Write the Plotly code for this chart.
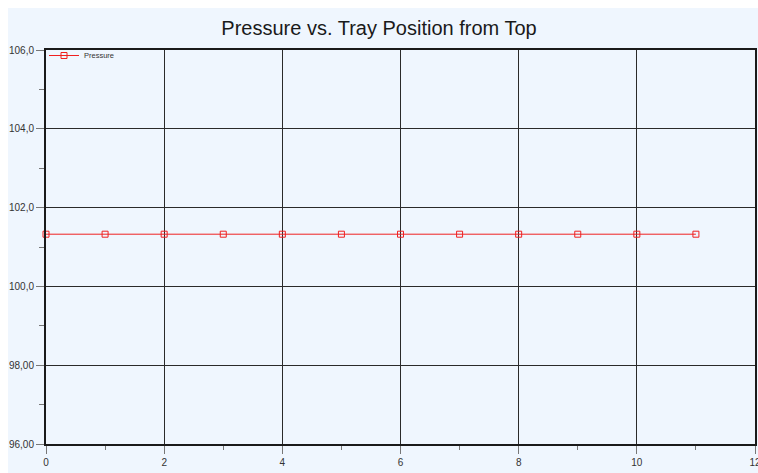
import plotly.graph_objects as go

# Tray positions counted from the top, and the column pressure (kPa) at each
tray_position = [0, 1, 2, 3, 4, 5, 6, 7, 8, 9, 10, 11]
pressure = [101.325, 101.325, 101.325, 101.325, 101.325, 101.325,
            101.325, 101.325, 101.325, 101.325, 101.325, 101.325]

y_tick_values = [96, 98, 100, 102, 104, 106]
y_tick_labels = ["96,00", "98,00", "100,0", "102,0", "104,0", "106,0"]
x_tick_values = [0, 2, 4, 6, 8, 10, 12]

W, H = 758, 473
L, R, T, B = 46, 3, 50, 29
BG = "#EFF6FE"

fig = go.Figure()
fig.add_trace(go.Scatter(
    x=tray_position, y=pressure, name="Pressure",
    mode="lines+markers",
    line=dict(color="#F02020", width=1),
    marker=dict(symbol="square-open", size=6, color="#F02020",
                line=dict(width=1)),
    cliponaxis=False,
))

axis_common = dict(
    showline=True, linecolor="#1A1A1A", linewidth=2, mirror=True,
    showgrid=True, gridcolor="#2A2A2A", gridwidth=1,
    zeroline=False, automargin=False, ticklabeloverflow="allow",
    ticks="outside", ticklen=8, tickcolor="#777777", tickwidth=1,
    tickfont=dict(family="Liberation Sans, Arial, sans-serif", size=10,
                  color="#333333"),
)

fig.update_xaxes(
    range=[0, 12], tickvals=x_tick_values,
    minor=dict(dtick=1, ticks="outside", ticklen=4, tickcolor="#777777",
               showgrid=False),
    **axis_common,
)
fig.update_yaxes(
    range=[96, 106], tickvals=y_tick_values, ticktext=y_tick_labels,
    minor=dict(dtick=1, ticks="outside", ticklen=5, tickcolor="#777777",
               showgrid=False),
    **axis_common,
)

# white strips along the top and left edges of the page
ph = H - T - B
pw = W - L - R
top_y0 = (H - B - 8) / ph
top_y1 = (H - B) / ph
left_x0 = -L / pw
left_x1 = (8 - L) / pw
fig.add_shape(type="rect", xref="paper", yref="paper",
              x0=left_x0, x1=(W - L) / pw + 0.01, y0=top_y0, y1=top_y1 + 0.01,
              fillcolor="white", line=dict(width=0), layer="below")
fig.add_shape(type="rect", xref="paper", yref="paper",
              x0=left_x0 - 0.01, x1=left_x1, y0=-B / ph - 0.01, y1=top_y1 + 0.01,
              fillcolor="white", line=dict(width=0), layer="below")

fig.update_layout(
    width=W, height=H,
    margin=dict(l=L, r=R, t=T, b=B, pad=0, autoexpand=False),
    paper_bgcolor=BG, plot_bgcolor=BG,
    title=dict(text="Pressure vs. Tray Position from Top",
               x=0.5, xanchor="center", y=1 - 28 / H, yanchor="middle",
               font=dict(family="Liberation Sans, Arial, sans-serif",
                         size=20, color="#1A1A1A")),
    showlegend=True,
    legend=dict(x=-2 / pw, y=1 + 9 / ph, xanchor="left", yanchor="top",
                bgcolor="rgba(0,0,0,0)", borderwidth=0,
                font=dict(family="Liberation Sans, Arial, sans-serif",
                          size=7.5, color="#333333"),
                itemwidth=30, tracegroupgap=0),
)

fig.write_html("out.html")
